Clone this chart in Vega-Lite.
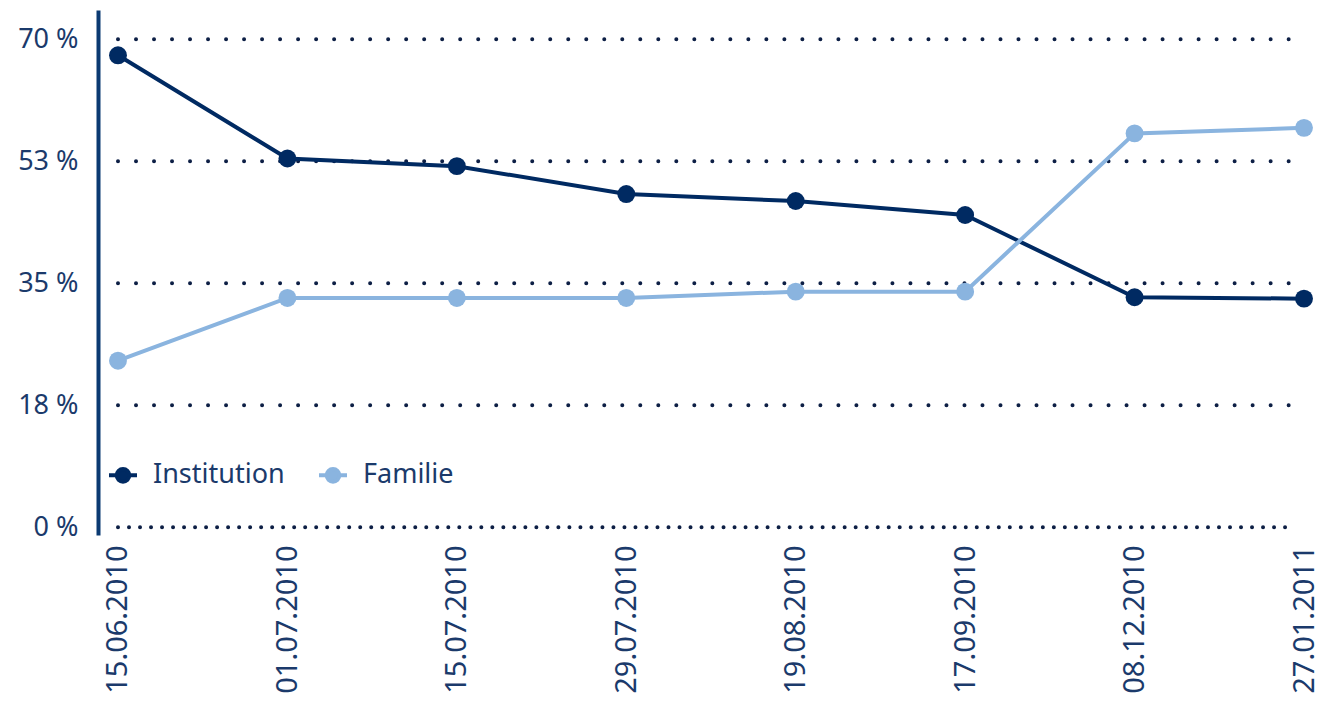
{
  "$schema": "https://vega.github.io/schema/vega-lite/v6.json",
  "autosize": {"type": "none"},
  "width": 1226,
  "height": 525,
  "padding": {"left": 98, "top": 10, "right": 14, "bottom": 166},
  "background": "white",
  "config": {
    "view": {"stroke": null},
    "font": "Noto Sans"
  },
  "layer": [
    {
      "data": {"values": [{"g": 0}, {"g": 17.5}, {"g": 35}, {"g": 52.5}, {"g": 70}]},
      "mark": {"type": "rule", "strokeWidth": 4, "strokeCap": "round", "color": "#0d1f45", "x2Offset": -11},
      "encoding": {
        "y": {"field": "g", "type": "quantitative"},
        "x": {"datum": "15.06.2010"},
        "x2": {"datum": "27.01.2011"},
        "strokeDash": {"condition": {"test": "datum.g === 0", "value": [0.01, 11]}, "value": [0.01, 18]}
      }
    },
    {
      "data": {
        "values": [
          {"date": "15.06.2010", "series": "Institution", "value": 67.7},
          {"date": "01.07.2010", "series": "Institution", "value": 52.9},
          {"date": "15.07.2010", "series": "Institution", "value": 51.8},
          {"date": "29.07.2010", "series": "Institution", "value": 47.8},
          {"date": "19.08.2010", "series": "Institution", "value": 46.8},
          {"date": "17.09.2010", "series": "Institution", "value": 44.8},
          {"date": "08.12.2010", "series": "Institution", "value": 33.0},
          {"date": "27.01.2011", "series": "Institution", "value": 32.8},
          {"date": "15.06.2010", "series": "Familie", "value": 23.9},
          {"date": "01.07.2010", "series": "Familie", "value": 32.9},
          {"date": "15.07.2010", "series": "Familie", "value": 32.9},
          {"date": "29.07.2010", "series": "Familie", "value": 32.9},
          {"date": "19.08.2010", "series": "Familie", "value": 33.8},
          {"date": "17.09.2010", "series": "Familie", "value": 33.8},
          {"date": "08.12.2010", "series": "Familie", "value": 56.5},
          {"date": "27.01.2011", "series": "Familie", "value": 57.3}
        ]
      },
      "mark": {"type": "line", "strokeWidth": 4, "point": {"filled": true, "size": 320, "opacity": 1}},
      "encoding": {
        "x": {
          "field": "date",
          "type": "ordinal",
          "sort": ["15.06.2010", "01.07.2010", "15.07.2010", "29.07.2010", "19.08.2010", "17.09.2010", "08.12.2010", "27.01.2011"],
          "scale": {"type": "point", "padding": 0.118, "domain": ["15.06.2010", "01.07.2010", "15.07.2010", "29.07.2010", "19.08.2010", "17.09.2010", "08.12.2010", "27.01.2011"]},
          "axis": {
            "title": null,
            "domain": false,
            "ticks": false,
            "grid": false,
            "labelAngle": 270,
            "labelAlign": "right",
            "labelBaseline": "middle",
            "labelPadding": 10,
            "labelFontSize": 29,
            "labelColor": "#1b3a6b"
          }
        },
        "y": {
          "field": "value",
          "type": "quantitative",
          "scale": {"domain": [-1.1, 74.2], "nice": false, "zero": false},
          "axis": {
            "title": null,
            "values": [0, 17.5, 35, 52.5, 70],
            "labelExpr": "format(round(datum.value), 'd') + ' %'",
            "domain": true,
            "domainColor": "#0b3a72",
            "domainWidth": 4,
            "ticks": false,
            "labelPadding": 20,
            "labelFontSize": 27,
            "labelColor": "#1b3a6b",
            "grid": false
          }
        },
        "color": {
          "field": "series",
          "type": "nominal",
          "sort": ["Institution", "Familie"],
          "scale": {"domain": ["Institution", "Familie"], "range": ["#002a62", "#8ab4df"]},
          "legend": {
            "title": null,
            "orient": "none",
            "legendX": 9,
            "legendY": 449,
            "direction": "horizontal",
            "symbolType": "M -1 0 L -0.4 0 M 0.4 0 L 1 0 M 0.45 0 A 0.45 0.45 0 1 1 -0.45 0 A 0.45 0.45 0 1 1 0.45 0 Z",
            "symbolSize": 784,
            "symbolStrokeWidth": 4,
            "symbolOpacity": 1,
            "labelFontSize": 27,
            "labelColor": "#1b3a6b",
            "labelOffset": 14,
            "columnPadding": 26
          }
        }
      }
    }
  ]
}
